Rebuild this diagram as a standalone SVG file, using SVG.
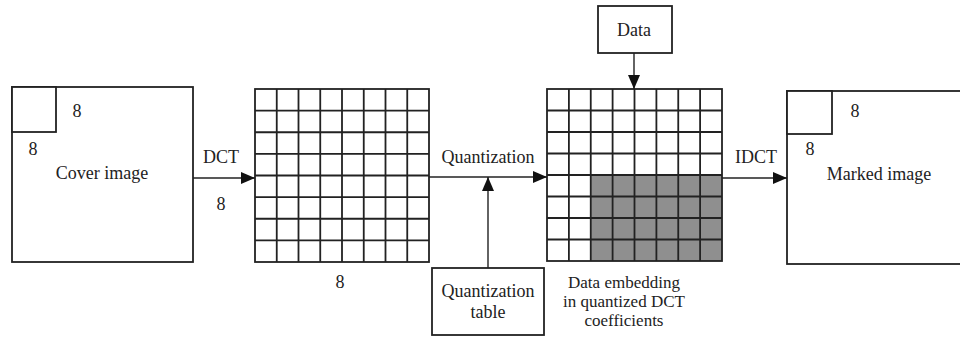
<svg xmlns="http://www.w3.org/2000/svg" width="960" height="339" viewBox="0 0 960 339">
<style>
.box{fill:#fff;stroke:#222;stroke-width:1.8}
.grid{fill:none;stroke:#222;stroke-width:1.8}
.conn{fill:none;stroke:#222;stroke-width:1.4}
text{font-family:"Liberation Serif","Times New Roman",serif;font-size:18px;fill:#222;text-anchor:middle}
.cap{font-size:17px}
</style>
<defs>
<marker id="ah" markerUnits="userSpaceOnUse" markerWidth="14" markerHeight="14" viewBox="0 0 14 14" refX="14" refY="7" orient="auto">
<path d="M0,1 L14,7 L0,13 Z" fill="#111"/>
</marker>
</defs>

<g id="cover">
<rect class="box" x="12" y="87" width="181" height="175"/>
<rect class="box" x="12" y="87" width="44" height="45" fill="none"/>
<text x="77" y="117">8</text>
<text x="33" y="155">8</text>
<text x="102" y="179">Cover image</text>
</g>

<g id="dct-grid">
<rect x="255" y="89" width="174" height="173" fill="#fff"/>
<path class="grid" d="M276.75,89V262M298.5,89V262M320.25,89V262M342,89V262M363.75,89V262M385.5,89V262M407.25,89V262M255,110.6H429M255,132.25H429M255,153.9H429M255,175.5H429M255,197.1H429M255,218.75H429M255,240.4H429"/>
<rect class="grid" x="255" y="89" width="174" height="173"/>
<text x="340" y="288">8</text>
</g>

<g id="quant-table">
<rect class="box" x="432" y="268" width="112" height="67"/>
<text x="488" y="297">Quantization</text>
<text x="488" y="318">table</text>
</g>

<g id="data">
<rect class="box" x="598" y="6" width="74" height="47"/>
<text x="634" y="36">Data</text>
</g>

<g id="embed-grid">
<rect x="547" y="89" width="175" height="172" fill="#fff"/>
<rect x="590.75" y="175" width="131.25" height="86" fill="#8f8f8f"/>
<path class="grid" d="M568.9,89V261M590.75,89V261M612.6,89V261M634.5,89V261M656.4,89V261M678.25,89V261M700.1,89V261M547,110.5H722M547,132H722M547,153.5H722M547,175H722M547,196.5H722M547,218H722M547,239.5H722"/>
<rect class="grid" x="547" y="89" width="175" height="172"/>
<text class="cap" x="624" y="288">Data embedding</text>
<text class="cap" x="624" y="307">in quantized DCT</text>
<text class="cap" x="624" y="326">coefficients</text>
</g>

<g id="marked">
<rect class="box" x="787" y="91" width="180" height="173"/>
<rect class="box" x="787" y="91" width="45" height="43" fill="none"/>
<text x="855" y="117">8</text>
<text x="810" y="155">8</text>
<text x="879" y="180">Marked image</text>
</g>

<g id="connectors">
<line class="conn" x1="193" y1="178" x2="255" y2="178" marker-end="url(#ah)"/>
<text x="221" y="163">DCT</text>
<text x="221" y="210">8</text>
<line class="conn" x1="429" y1="177" x2="547" y2="177" marker-end="url(#ah)"/>
<text x="488" y="163">Quantization</text>
<line class="conn" x1="488" y1="268" x2="488" y2="177" marker-end="url(#ah)"/>
<line class="conn" x1="634" y1="53" x2="634" y2="89" marker-end="url(#ah)"/>
<line class="conn" x1="722" y1="178" x2="787" y2="178" marker-end="url(#ah)"/>
<text x="756" y="163">IDCT</text>
</g>
</svg>
